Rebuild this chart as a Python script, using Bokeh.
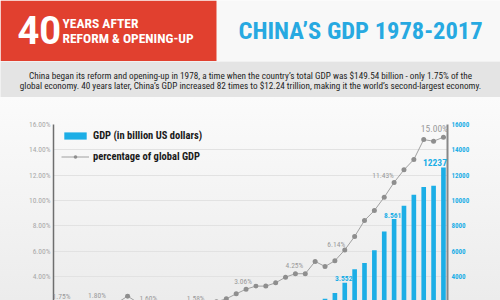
from bokeh.plotting import figure
from bokeh.models import (Range1d, LinearAxis, FixedTicker, PrintfTickFormatter,
                          Legend, LegendItem, ColumnDataSource, LabelSet, Label)
from bokeh.layouts import column
from bokeh.embed import file_html
from bokeh.resources import INLINE
from bokeh.core.properties import value

# ---------------- data ----------------
years = list(range(1978, 2018))
gdp_billion = [149.5, 178.3, 191.1, 195.9, 205.1, 230.7, 259.9, 309.5, 300.8, 272.9,
               312.4, 347.8, 360.9, 383.4, 426.9, 444.7, 564.3, 734.5, 863.7, 961.6,
               1029, 1094, 1211, 1339, 1471, 1660, 1955, 2240, 2700, 3500,
               4570, 5070, 6070, 7550, 8530, 9590, 10460, 11060, 11170, 12600]
pct_global = [1.75, 1.78, 1.72, 1.65, 1.80, 1.85, 1.95, 2.45, 1.95, 1.60,
              1.65, 1.62, 1.60, 1.60, 1.58, 1.70, 2.00, 2.24, 2.63, 3.00,
              3.24, 3.24, 3.50, 3.95, 4.22, 4.22, 5.19, 4.79, 5.24, 6.10,
              7.16, 8.42, 9.21, 10.26, 11.43, 12.42, 13.24, 14.81, 14.68, 15.00]

pct_label_years = [1978, 1982, 1987, 1992, 1997, 2002, 2007, 2012, 2017]
pct_label_texts = ["1.75%", "1.80%", "1.60%", "1.58%", "3.06%", "4.25%", "6.14%", "11.43%", "15.00%"]
gdp_label_years = [2007, 2012, 2017]
gdp_label_texts = ["3.552", "8.561", "12237"]

left_ticks = [2, 4, 6, 8, 10, 12, 14, 16]
right_ticks = [2000, 4000, 6000, 8000, 10000, 12000, 14000, 16000]

title_text = "CHINA\u2019S GDP 1978-2017"
badge_number = "40"
badge_line1 = "YEARS AFTER"
badge_line2 = "REFORM & OPENING-UP"
intro_line1 = ("China began its reform and opening-up in 1978, a time when the country\u2019s "
               "total GDP was $149.54 billion - only 1.75% of the")
intro_line2 = ("global economy. 40 years later, China\u2019s GDP increased 82 times to "
               "$12.24 trillion, making it the world\u2019s second-largest economy.")

RED = "#e1402f"
BLUE = "#1caee6"
COND = "Roboto Condensed"
SANS = "Roboto"


def bare(fig):
    fig.grid.visible = False
    fig.outline_line_color = None
    return fig


# ---------------- header ----------------
hdr = figure(width=500, height=61, x_range=Range1d(0, 500), y_range=Range1d(61, 0),
             toolbar_location=None, output_backend="svg", min_border=0,
             x_axis_location=None, y_axis_location=None, frame_align=False)
bare(hdr)
hdr.background_fill_color = "#f8f8f8"
hdr.border_fill_color = "#f8f8f8"
hdr.quad(left=[0], right=[216], top=[0], bottom=[61], fill_color=RED, line_color=None)
hdr.text(x=[17], y=[29], text=[badge_number], text_color="white", text_font=value(SANS),
         text_font_style="bold", text_font_size="38px", text_baseline="middle")
hdr.text(x=[62], y=[22], text=[badge_line1], text_color="white", text_font=value(COND),
         text_font_style="bold", text_font_size="13.5px", text_baseline="middle")
hdr.text(x=[62], y=[37], text=[badge_line2], text_color="white", text_font=value(COND),
         text_font_style="bold", text_font_size="13.5px", text_baseline="middle")
hdr.text(x=[238], y=[29.5], text=[title_text], text_color="#27a9e1", text_font=value(COND),
         text_font_style="bold", text_font_size="24.5px", text_baseline="middle")

# ---------------- intro band ----------------
band = figure(width=500, height=36, x_range=Range1d(0, 500), y_range=Range1d(36, 0),
              toolbar_location=None, output_backend="svg", min_border=0,
              x_axis_location=None, y_axis_location=None, frame_align=False)
bare(band)
band.background_fill_color = "#e4e4e4"
band.border_fill_color = "#e4e4e4"
band.text(x=[250, 250], y=[13.5, 23.5], text=[intro_line1, intro_line2], text_color="#1e1e1e",
          text_font=value(COND), text_font_size="9.2px", text_align="center",
          text_baseline="middle")

# ---------------- chart ----------------
p = figure(width=500, height=203, x_range=Range1d(1977.49, 2017.41), y_range=Range1d(2.105, 16),
           toolbar_location=None, output_backend="svg", x_axis_location=None,
           min_border_left=53, min_border_right=53, min_border_top=27, min_border_bottom=0,
           frame_align=False,
           styles={"background": "linear-gradient(180deg, #fbfbfb 0%, #ececec 100%)"})
p.background_fill_color = None
p.border_fill_color = None
p.outline_line_color = None
p.xgrid.visible = False
p.ygrid.ticker = FixedTicker(ticks=left_ticks)
p.ygrid.grid_line_color = "#e2e2e2"
p.ygrid.grid_line_width = 1

left = p.yaxis[0]
left.ticker = FixedTicker(ticks=left_ticks)
left.formatter = PrintfTickFormatter(format="%.2f%%")
left.major_label_text_font = COND
left.major_label_text_font_size = "7.5px"
left.major_label_text_color = "#a8a8a8"
left.axis_line_color = "#6e6e6e"
left.axis_line_width = 1.5
left.major_tick_in = 0
left.major_tick_out = 0
left.minor_tick_in = 0
left.minor_tick_out = 0
left.major_label_standoff = 3

p.extra_y_ranges = {"gdp": Range1d(2105, 16000)}
right = LinearAxis(y_range_name="gdp", ticker=FixedTicker(ticks=right_ticks))
right.major_label_text_font = COND
right.major_label_text_font_style = "bold"
right.major_label_text_font_size = "7px"
right.major_label_text_color = BLUE
right.axis_line_color = "#888888"
right.axis_line_width = 2
right.major_tick_in = 0
right.major_tick_out = 0
right.minor_tick_in = 0
right.minor_tick_out = 0
right.major_label_standoff = 4
p.add_layout(right, "right")

# partially visible lowest tick label (its tick lies just below the visible area)
p.add_layout(Label(x=1977.49, y=left_ticks[0], x_offset=-3, text="%.2f%%" % left_ticks[0],
                   text_align="right", text_baseline="middle", text_font=COND,
                   text_font_size="7.5px", text_color="#a8a8a8"))

src = ColumnDataSource(dict(year=years, gdp=gdp_billion, pct=pct_global))
bars = p.vbar(x="year", top="gdp", bottom=0, width=0.47, source=src, y_range_name="gdp",
              fill_color=BLUE, line_color=None)
line = p.line(x="year", y="pct", source=src, line_color="#a0a0a0", line_width=1)
pts = p.scatter(x="year", y="pct", source=src, size=5, fill_color="#8e8e8e", line_color=None)

# percentage labels
pct_lookup = dict(zip(years, pct_global))
gdp_lookup = dict(zip(years, gdp_billion))
pl = ColumnDataSource(dict(
    x=pct_label_years,
    y=[pct_lookup[y] for y in pct_label_years],
    t=pct_label_texts,
    dx=[3, -1, 1, -1, -3, -1, -8.5, -11, -9],
    dy=[4, 4, 4, 4, 3.5, 4, 1, 2.7, 3.4],
    fs=["7.5px"] * 8 + ["9.5px"],
))
p.add_layout(LabelSet(x="x", y="y", text="t", x_offset="dx", y_offset="dy",
                      text_font_size="fs", source=pl, text_font=value(COND),
                      text_color="#9a9a9a", text_align="center", text_baseline="bottom"))

bl = ColumnDataSource(dict(
    x=gdp_label_years,
    y=[gdp_lookup[y] for y in gdp_label_years],
    t=gdp_label_texts,
    dx=[-1, -1.5, -8.5],
    fs=["7.5px", "7.5px", "9.5px"],
))
p.add_layout(LabelSet(x="x", y="y", text="t", x_offset="dx", y_offset=1.5,
                      text_font_size="fs", source=bl, y_range_name="gdp",
                      text_font=value(COND), text_font_style="bold", text_color=BLUE,
                      text_align="center", text_baseline="bottom"))

legend = Legend(items=[LegendItem(label="GDP (in billion US dollars)", renderers=[bars]),
                       LegendItem(label="percentage of global GDP", renderers=[line, pts])],
                location=(8, 137), padding=0, margin=0, spacing=8, glyph_width=28,
                glyph_height=9, label_standoff=4, label_text_font=COND,
                label_text_font_style="bold", label_text_font_size="10.5px",
                label_text_color="#1a1a1a", background_fill_alpha=0, border_line_alpha=0)
p.add_layout(legend)

layout = column(hdr, band, p, spacing=0)
open("out.html", "w").write(file_html(layout, INLINE))
